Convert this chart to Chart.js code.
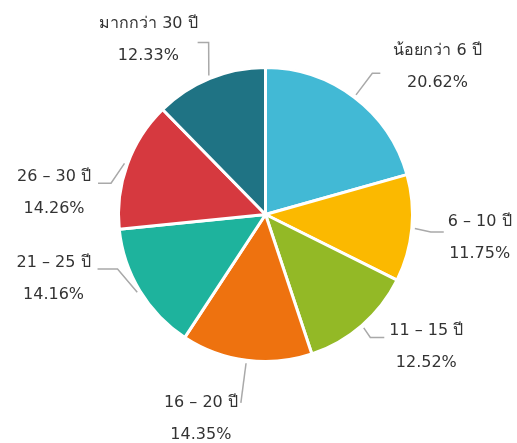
<!DOCTYPE html>
<html>
<head>
<meta charset="utf-8">
<script src="https://cdn.jsdelivr.net/npm/chart.js@4/dist/chart.umd.min.js"></script>
<style>
  html, body { margin: 0; padding: 0; background: #fff; }
  #wrap { width: 517px; height: 443px; }
</style>
</head>
<body>
<div id="wrap"><canvas id="pieChart" width="517" height="443"></canvas></div>
<script>
const labels = ['น้อยกว่า 6 ปี', '6 – 10 ปี', '11 – 15 ปี', '16 – 20 ปี', '21 – 25 ปี', '26 – 30 ปี', 'มากกว่า 30 ปี'];
const shares = [20.62, 11.75, 12.52, 14.35, 14.16, 14.26, 12.33];
const colors = ['#42b9d5', '#fbb900', '#93b926', '#ee720f', '#1eb39d', '#d6393f', '#1f7384'];

const FONT = '16px "DejaVu Sans", Tahoma, sans-serif';

// leader line + two-line label for each slice
const outsideLabels = {
  id: 'outsideLabels',
  afterDraw(chart, args, opts) {
    const ctx = chart.ctx;
    const meta = chart.getDatasetMeta(0);
    ctx.save();
    ctx.font = FONT;
    meta.data.forEach((arc, i) => {
      const t = opts.tweaks[i];
      const mid = (arc.startAngle + arc.endAngle) / 2;
      const dx = Math.cos(mid), dy = Math.sin(mid);
      const r = arc.outerRadius;
      const side = t.side || (dx >= 0 ? 1 : -1);

      const p0 = { x: arc.x + dx * (r + 3), y: arc.y + dy * (r + 3) };
      const p1 = { x: arc.x + dx * (r + t.ext) + t.dx, y: arc.y + dy * (r + t.ext) + t.dy };
      const p2 = { x: p1.x + side * t.h, y: p1.y };

      ctx.strokeStyle = '#a9a9a9';
      ctx.lineWidth = 1.5;
      ctx.beginPath();
      ctx.moveTo(p0.x, p0.y);
      ctx.lineTo(p1.x, p1.y);
      ctx.lineTo(p2.x, p2.y);
      ctx.stroke();

      const name = labels[i];
      const pct = shares[i].toFixed(2) + '%';
      const bw = Math.max(ctx.measureText(name).width, ctx.measureText(pct).width);
      const cx = p2.x + side * (t.gap + bw / 2);
      const ny = p2.y + t.ty;
      ctx.fillStyle = '#333';
      ctx.textAlign = 'center';
      ctx.textBaseline = 'middle';
      ctx.fillText(name, cx, ny);
      ctx.fillText(pct, cx, ny + 32);
    });
    ctx.restore();
  }
};

new Chart(document.getElementById('pieChart'), {
  type: 'pie',
  data: {
    labels,
    datasets: [{
      data: shares,
      backgroundColor: colors,
      borderColor: '#fff',
      borderWidth: 3
    }]
  },
  options: {
    responsive: false,
    animation: false,
    layout: { padding: { top: 66, bottom: 80, left: 117, right: 103 } },
    plugins: {
      legend: { display: false },
      tooltip: { enabled: false },
      outsideLabels: {
        tweaks: [
          { ext: 30, dx: 0, dy: 0, h: 8, gap: 13, ty: -23 },
          { ext: 19, dx: 0, dy: 2, h: 13, gap: 4, ty: -10 },
          { ext: 13, dx: 0, dy: 2, h: 14, gap: 5, ty: -7 },
          { ext: 43, dx: 0, dy: 0, h: 0, gap: 3, ty: 0, side: -1 },
          { ext: 12, dx: -12, dy: -28, h: 20, gap: 7, ty: -6 },
          { ext: 12, dx: -5, dy: 23, h: 13, gap: 7, ty: -6 },
          { ext: 30, dx: 10, dy: -8, h: 11, gap: 0, ty: -19 }
        ]
      }
    }
  },
  plugins: [outsideLabels]
});
</script>
</body>
</html>
